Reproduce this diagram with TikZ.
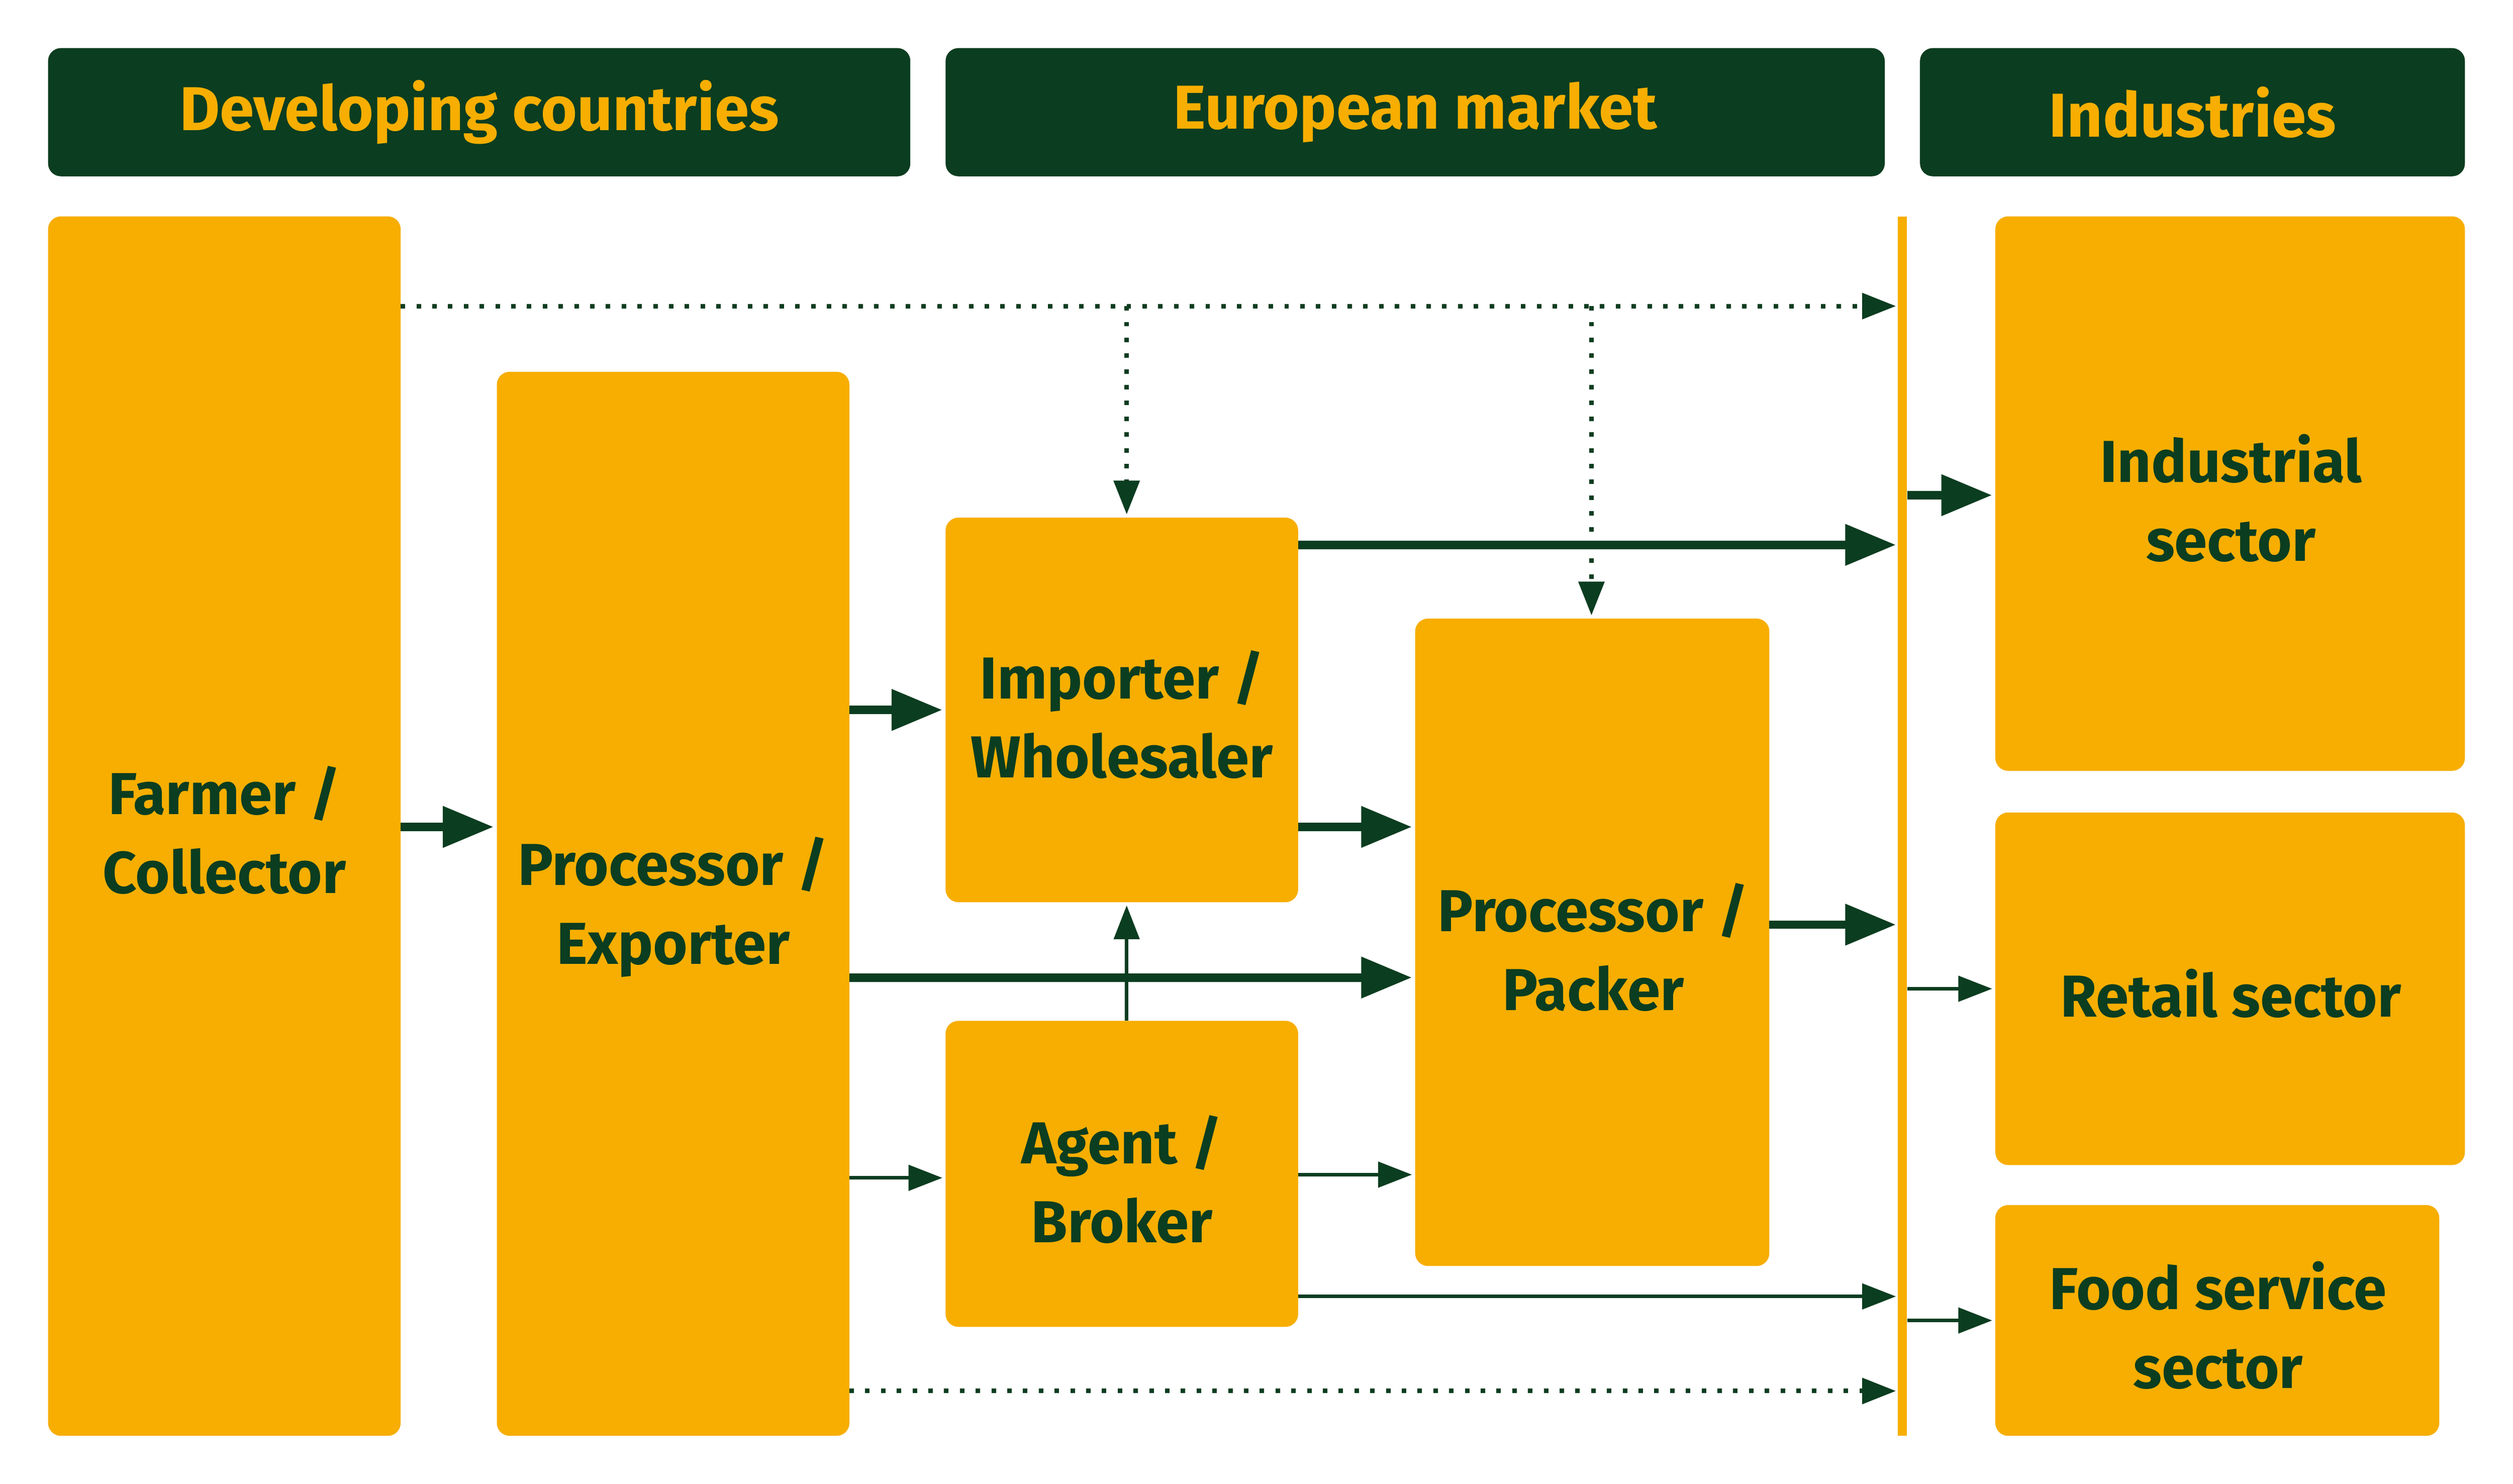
\documentclass[tikz,border=0pt]{standalone}
\usepackage{fontspec}
\setmainfont{Fira Sans}
\usetikzlibrary{arrows.meta}
\definecolor{dkgreen}{HTML}{0B3D20}
\definecolor{gold}{HTML}{F7AE00}
\begin{document}
\begin{tikzpicture}[x=0.01cm, y=-0.01cm, >={Triangle[length=9pt, width=7pt]}]
    \tikzset{head/.style={fill=dkgreen, rounded corners=0.08cm, text=gold, font=\bfseries\fontsize{11}{13}\selectfont},
             box/.style={fill=gold, rounded corners=0.08cm, text=dkgreen, align=center, font=\bfseries\fontsize{10.5}{14}\selectfont},
             thick flow/.style={->, draw=dkgreen, line width=1.5pt},
             thin flow/.style={->, draw=dkgreen, line width=0.6pt, >={Triangle[length=6pt, width=4.5pt]}},
             dot flow/.style={->, draw=dkgreen, line width=0.8pt, dotted, >={Triangle[length=6pt, width=4.5pt]}}}
    \useasboundingbox (0,0) rectangle (1568,926);
    % headers
    \path[head] (30,30) rectangle (568,110);
    \node[text=gold, font=\bfseries\fontsize{11}{13}\selectfont] (hdev) at (299,70) {Developing countries};
    \path[head] (590,30) rectangle (1176,110);
    \node[text=gold, font=\bfseries\fontsize{11}{13}\selectfont] (heur) at (883,70) {European market};
    \path[head] (1198,30) rectangle (1538,110);
    \node[text=gold, font=\bfseries\fontsize{11}{13}\selectfont] (hind) at (1368,70) {Industries};
    % boxes
    \path[box] (30,135) rectangle (250,896);
    \node[box, fill=none] (farmer) at (140,518) {Farmer /\\Collector};
    \path[box] (310,232) rectangle (530,896);
    \node[box, fill=none] (procexp) at (420,566) {Processor /\\Exporter};
    \path[box] (590,323) rectangle (810,563);
    \node[box, fill=none] (importer) at (700,446) {Importer /\\Wholesaler};
    \path[box] (590,637) rectangle (810,828);
    \node[box, fill=none] (agent) at (700,736) {Agent /\\Broker};
    \path[box] (883,386) rectangle (1104,790);
    \node[box, fill=none] (packer) at (994,591) {Processor /\\Packer};
    \path[box] (1245,135) rectangle (1538,481);
    \node[box, fill=none] (industrial) at (1392,311) {Industrial\\sector};
    \path[box] (1245,507) rectangle (1538,727);
    \node[box, fill=none] (retail) at (1392,620) {Retail sector};
    \path[box] (1245,752) rectangle (1522,896);
    \node[box, fill=none] (food) at (1384,827) {Food service\\sector};
    % market bar
    \draw[gold, line width=1.6pt] (1187,135) -- (1187,896);
    % thick flows
    \draw[thick flow] (250,516) -- (308,516);
    \draw[thick flow] (530,443) -- (588,443);
    \draw[thick flow] (810,340) -- (1183,340);
    \draw[thick flow] (810,516) -- (881,516);
    \draw[thick flow] (530,610) -- (881,610);
    \draw[thick flow] (1104,577) -- (1183,577);
    \draw[thick flow] (1190,309) -- (1243,309);
    % thin flows
    \draw[thin flow] (530,735) -- (588,735);
    \draw[thin flow] (810,733) -- (881,733);
    \draw[thin flow] (810,809) -- (1183,809);
    \draw[thin flow] (703,637) -- (703,565);
    \draw[thin flow] (1190,617) -- (1243,617);
    \draw[thin flow] (1190,824) -- (1243,824);
    % dotted flows
    \draw[dot flow] (250,191) -- (1183,191);
    \draw[dot flow] (703,191) -- (703,321);
    \draw[dot flow] (993,191) -- (993,384);
    \draw[dot flow] (530,868) -- (1183,868);
\end{tikzpicture}
\end{document}
